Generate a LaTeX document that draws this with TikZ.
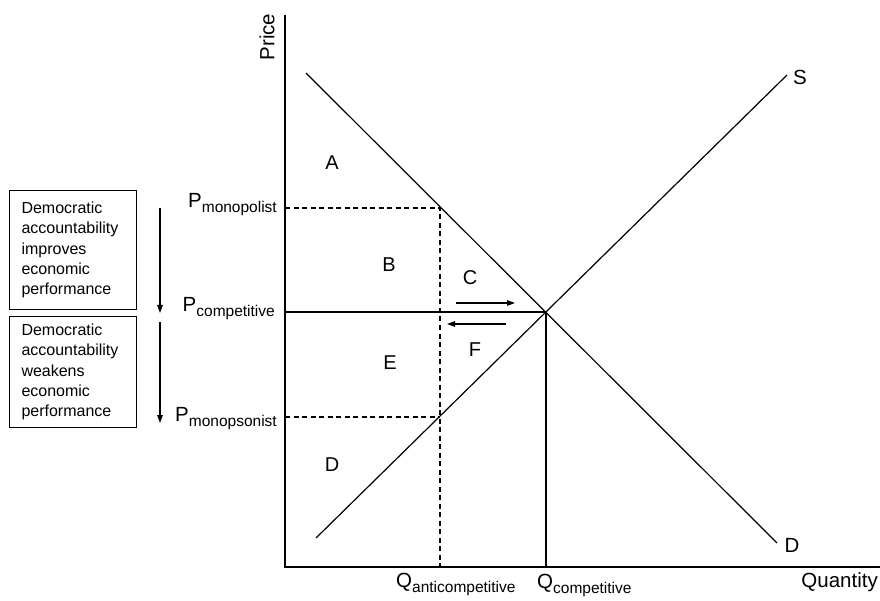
\documentclass[tikz,border=0pt]{standalone}
\usepackage{fontspec}
\setmainfont{Liberation Sans}
\usetikzlibrary{arrows.meta}
\newcommand{\sublbl}[2]{#1\raisebox{-5pt}{\fontsize{15.5}{16}\selectfont #2}}
\tikzset{
  axis/.style={draw=black,line width=2.4pt},
  curve/.style={draw=black,line width=1.2pt},
  guide/.style={draw=black,line width=1.1pt,dash pattern=on 5pt off 3.5pt},
  infobox/.style={draw=black,line width=1pt,anchor=north west,align=left,text width=103pt,inner xsep=12pt,minimum height=119pt,font=\fontsize{16}{20.3}\selectfont},
  region/.style={font=\fontsize{20}{22}\selectfont},
  axlbl/.style={font=\fontsize{20.5}{22}\selectfont,inner sep=0pt},
  arr/.style={-{Triangle[length=8pt,width=5.5pt]},draw=black,line width=1.1pt}
}

\begin{document}
\begin{tikzpicture}[x=1pt,y=-1pt]
  \useasboundingbox (0,0) rectangle (880,601);
  % axes
  \coordinate (origin) at (285,567);
  \coordinate (ptop) at (285,15);
  \coordinate (qend) at (880,567);
  \draw[axis] (ptop) -- (origin) -- (qend);
  \node[axlbl,rotate=90] (price) at (267,37) {Price};
  \node[axlbl,anchor=base east] (quantity) at (878,587) {Quantity};
  % demand and supply
  \coordinate (dtop) at (306,73);
  \coordinate (dbot) at (777,543);
  \coordinate (sbot) at (316,538);
  \coordinate (stop) at (787,75);
  \coordinate (eq) at (546,312);
  \coordinate (mono) at (440,208);
  \coordinate (mpsn) at (440,417);
  \draw[curve] (dtop) -- (dbot);
  \draw[curve] (sbot) -- (stop);
  \node[axlbl] (slbl) at (800,77) {S};
  \node[axlbl] (dlbl) at (792,545) {D};
  % price levels
  \draw[guide] (origin |- mono) -- (mono) -- (mono |- origin);
  \draw[guide] (origin |- mpsn) -- (mpsn);
  \draw[curve] (origin |- eq) -- (eq) -- (eq |- origin);
  \node[axlbl,anchor=base east] (pmono) at (277,208) {\sublbl{P}{monopolist}};
  \node[axlbl,anchor=base east] (pcomp) at (275,312) {\sublbl{P}{competitive}};
  \node[axlbl,anchor=base east] (pmpsn) at (277,421) {\sublbl{P}{monopsonist}};
  \node[axlbl,anchor=base west] (qanti) at (396,587) {\sublbl{Q}{anticompetitive}};
  \node[axlbl,anchor=base west] (qcomp) at (537,588) {\sublbl{Q}{competitive}};
  % regions
  \node[region] (ra) at (332,163) {A};
  \node[region] (rb) at (389,265) {B};
  \node[region] (rc) at (470,278) {C};
  \node[region] (rd) at (332,465) {D};
  \node[region] (re) at (390,363) {E};
  \node[region] (rf) at (475,350) {F};
  \coordinate (rcfrom) at (456,303);
  \coordinate (rcto) at (515,303);
  \coordinate (rffrom) at (506,324);
  \coordinate (rfto) at (447,324);
  \draw[arr] (rcfrom) -- (rcto);
  \draw[arr] (rffrom) -- (rfto);
  % accountability boxes
  \node[infobox] (improve) at (9,190) {Democratic\\accountability\\improves\\economic\\performance};
  \node[infobox,minimum height=111pt] (weaken) at (9,316) {Democratic\\accountability\\weakens\\economic\\performance};
  \coordinate (upfrom) at (160,208);
  \coordinate (upto) at (160,313);
  \coordinate (lowfrom) at (160,322);
  \coordinate (lowto) at (160,423);
  \draw[arr] (upfrom) -- (upto);
  \draw[arr] (lowfrom) -- (lowto);
\end{tikzpicture}
\end{document}
